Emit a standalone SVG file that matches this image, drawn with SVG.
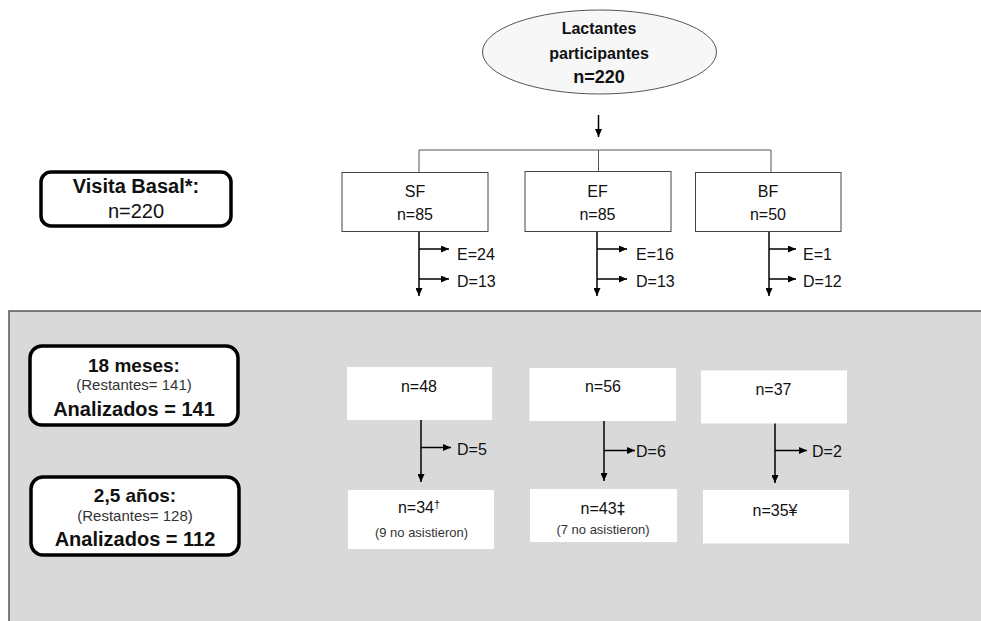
<svg xmlns="http://www.w3.org/2000/svg" width="981" height="621" viewBox="0 0 981 621">
  <style>
    .t { font-family: "Liberation Sans", Arial, sans-serif; fill: #111; text-anchor: middle; }
    .b { font-weight: bold; }
    .s16 { font-size: 16px; }
    .s20 { font-size: 20px; }
    .sm { font-size: 15px; fill: #333; }
    .xs { font-size: 13px; fill: #333; }
    .lbl { font-family: "Liberation Sans", Arial, sans-serif; font-size: 16px; fill: #111; text-anchor: start; }
    .grp { fill: #fff; stroke: #444; stroke-width: 1; }
    .wbox { fill: #fff; stroke: none; }
    .rbox { fill: #fff; stroke: #000; stroke-width: 3.5; }
    .arr { stroke: #000; stroke-width: 1.5; fill: none; marker-end: url(#ah); }
    .split { stroke: #555; stroke-width: 1; fill: none; }
  </style>
  <defs>
    <marker id="ah" markerUnits="userSpaceOnUse" markerWidth="8" markerHeight="7" refX="8" refY="3.5" orient="auto">
      <path d="M0,0 L8,3.5 L0,7 z" fill="#000"/>
    </marker>
  </defs>

  <rect width="981" height="621" fill="#fff"/>

  <!-- follow-up band -->
  <rect id="followup-band" x="9" y="311" width="990" height="330" fill="#d9d9d9" stroke="#555" stroke-width="1.5"/>

  <!-- connectors -->
  <g id="connectors">
    <line class="arr" x1="598.5" y1="115" x2="598.5" y2="137"/>
    <path class="split" d="M419,172 V150 H771 V172 M598.5,150 V171"/>

    <!-- SF column -->
    <line class="arr" x1="419" y1="232" x2="419" y2="296"/>
    <line class="arr" x1="419" y1="249" x2="449" y2="249"/>
    <line class="arr" x1="419" y1="279" x2="449" y2="279"/>
    <!-- EF column -->
    <line class="arr" x1="597" y1="232" x2="597" y2="296"/>
    <line class="arr" x1="597" y1="249" x2="627" y2="249"/>
    <line class="arr" x1="597" y1="279" x2="627" y2="279"/>
    <!-- BF column -->
    <line class="arr" x1="769" y1="232" x2="769" y2="296"/>
    <line class="arr" x1="769" y1="249" x2="796" y2="249"/>
    <line class="arr" x1="769" y1="279" x2="796" y2="279"/>

    <!-- 18 months to 2.5 years -->
    <line class="arr" x1="421" y1="420" x2="421" y2="482"/>
    <line class="arr" x1="421" y1="447.5" x2="451" y2="447.5"/>
    <line class="arr" x1="604" y1="419" x2="604" y2="481"/>
    <line class="arr" x1="604" y1="450.5" x2="635" y2="450.5"/>
    <line class="arr" x1="775" y1="422" x2="775" y2="483"/>
    <line class="arr" x1="775" y1="450.5" x2="807" y2="450.5"/>
  </g>

  <!-- exclusion / drop-out labels -->
  <g id="labels">
    <text class="lbl" x="457" y="260">E=24</text>
    <text class="lbl" x="457" y="287">D=13</text>
    <text class="lbl" x="636" y="260">E=16</text>
    <text class="lbl" x="636" y="287">D=13</text>
    <text class="lbl" x="803" y="260">E=1</text>
    <text class="lbl" x="803" y="287">D=12</text>
    <text class="lbl" x="457" y="455">D=5</text>
    <text class="lbl" x="636" y="457">D=6</text>
    <text class="lbl" x="812" y="457">D=2</text>
  </g>

  <!-- enrolled infants -->
  <g id="node-participants">
    <ellipse cx="599.5" cy="52" rx="117" ry="42" fill="#f7f7f7" stroke="#555" stroke-width="1"/>
    <text class="t b s16" x="599" y="34">Lactantes</text>
    <text class="t b s16" x="599" y="59">participantes</text>
    <text class="t b" font-size="18" x="599" y="83">n=220</text>
  </g>

  <!-- formula groups -->
  <g id="node-sf">
    <rect class="grp" x="342" y="172.5" width="146" height="59"/>
    <text class="t s16" x="415" y="197">SF</text>
    <text class="t s16" x="415" y="220">n=85</text>
  </g>
  <g id="node-ef">
    <rect class="grp" x="525" y="171.5" width="146" height="60"/>
    <text class="t s16" x="597.5" y="197">EF</text>
    <text class="t s16" x="597.5" y="220">n=85</text>
  </g>
  <g id="node-bf">
    <rect class="grp" x="695.5" y="172.5" width="145.5" height="59"/>
    <text class="t s16" x="768" y="197">BF</text>
    <text class="t s16" x="768" y="220">n=50</text>
  </g>

  <!-- stage labels -->
  <g id="node-baseline">
    <rect class="rbox" x="41" y="172" width="190" height="54" rx="10"/>
    <text class="t b s20" x="136" y="193">Visita Basal*:</text>
    <text class="t s20" x="136" y="218">n=220</text>
  </g>
  <g id="node-18m">
    <rect class="rbox" x="30" y="346" width="208" height="79" rx="12"/>
    <text class="t b" font-size="19" x="134" y="372">18 meses:</text>
    <text class="t sm" x="134" y="390">(Restantes= 141)</text>
    <text class="t b s20" x="134" y="416">Analizados = 141</text>
  </g>
  <g id="node-30m">
    <rect class="rbox" x="31" y="477" width="208" height="78" rx="12"/>
    <text class="t b" font-size="19" x="135" y="502">2,5 años:</text>
    <text class="t sm" x="135" y="521">(Restantes= 128)</text>
    <text class="t b s20" x="135" y="546">Analizados = 112</text>
  </g>

  <!-- 18 month counts -->
  <g id="node-sf-18m">
    <rect class="wbox" x="347" y="367" width="145" height="53"/>
    <text class="t s16" x="419" y="392">n=48</text>
  </g>
  <g id="node-ef-18m">
    <rect class="wbox" x="529.5" y="368" width="146.5" height="53"/>
    <text class="t s16" x="603" y="392">n=56</text>
  </g>
  <g id="node-bf-18m">
    <rect class="wbox" x="701" y="370.5" width="146" height="53"/>
    <text class="t s16" x="773.5" y="395">n=37</text>
  </g>

  <!-- 2.5 year counts -->
  <g id="node-sf-30m">
    <rect class="wbox" x="348" y="490" width="146" height="59"/>
    <text class="t s16" x="419" y="513">n=34<tspan font-size="11" dy="-5">†</tspan></text>
    <text class="t xs" x="421.5" y="537">(9 no asistieron)</text>
  </g>
  <g id="node-ef-30m">
    <rect class="wbox" x="530" y="489" width="147" height="53"/>
    <text class="t s16" x="603" y="514">n=43<tspan font-weight="bold">‡</tspan></text>
    <text class="t xs" x="603" y="534">(7 no asistieron)</text>
  </g>
  <g id="node-bf-30m">
    <rect class="wbox" x="703" y="490" width="146" height="53.5"/>
    <text class="t s16" x="775" y="515.5">n=35¥</text>
  </g>
</svg>
